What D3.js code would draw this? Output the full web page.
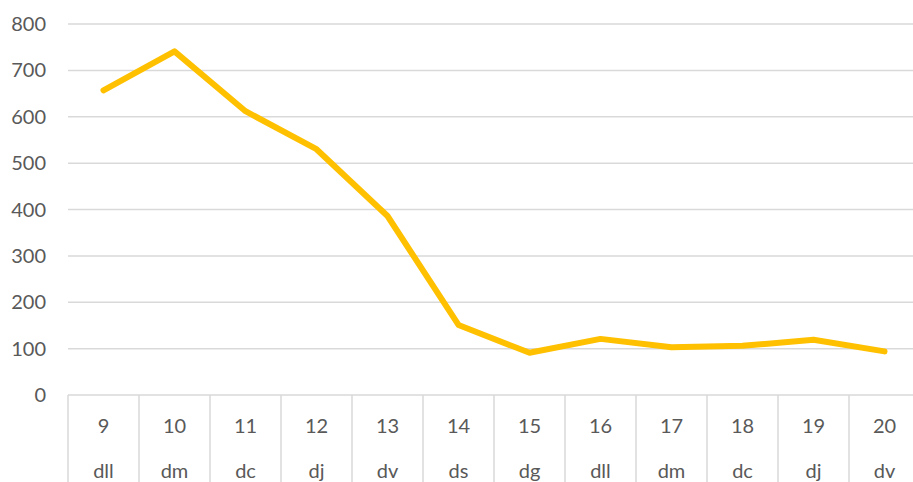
<!DOCTYPE html>
<html>
<head>
<meta charset="utf-8">
<script src="https://cdn.jsdelivr.net/npm/d3@7"></script>
<style>
  body { margin: 0; background: #fff; }
  text { font-family: Lato, "Open Sans", sans-serif; fill: #595959; }
</style>
</head>
<body>
<div id="chart"></div>
<script>
var days = ["9", "10", "11", "12", "13", "14", "15", "16", "17", "18", "19", "20"];
var weekdays = ["dll", "dm", "dc", "dj", "dv", "ds", "dg", "dll", "dm", "dc", "dj", "dv"];
var values = [657, 741, 612, 530, 386, 151, 91, 121, 103, 106, 119, 94];
var yTicks = [0, 100, 200, 300, 400, 500, 600, 700, 800];

var width = 913, height = 482;
var margin = { left: 68, top: 24, bottom: 87 };
var plotRight = 920;
var baseY = height - margin.bottom;

var svg = d3.select("#chart").append("svg")
    .attr("width", width)
    .attr("height", height);

var x = d3.scaleBand()
    .domain(d3.range(days.length))
    .range([margin.left, plotRight]);

var y = d3.scaleLinear()
    .domain([0, 800])
    .range([baseY, margin.top]);

// gridlines
svg.selectAll(".grid")
    .data(yTicks)
    .enter()
    .append("line")
    .attr("x1", margin.left)
    .attr("x2", plotRight)
    .attr("y1", function (d) { return y(d); })
    .attr("y2", function (d) { return y(d); })
    .attr("stroke", "#d9d9d9")
    .attr("stroke-width", 1.5);

// y labels
svg.selectAll(".ylab")
    .data(yTicks)
    .enter()
    .append("text")
    .attr("x", 46)
    .attr("y", function (d) { return y(d); })
    .attr("dy", "0.35em")
    .attr("text-anchor", "end")
    .style("font-size", "20px")
    .text(function (d) { return d; });

// category dividers
var edges = d3.range(days.length + 1).map(function (i) {
    return i < days.length ? x(i) : x(days.length - 1) + x.bandwidth();
});
svg.selectAll(".div")
    .data(edges)
    .enter()
    .append("line")
    .attr("x1", function (d) { return d; })
    .attr("x2", function (d) { return d; })
    .attr("y1", baseY)
    .attr("y2", height)
    .attr("stroke", "#d9d9d9")
    .attr("stroke-width", 1.5);

// category labels
svg.selectAll(".daylab")
    .data(days)
    .enter()
    .append("text")
    .attr("x", function (d, i) { return x(i) + x.bandwidth() / 2; })
    .attr("y", 426)
    .attr("dy", "0.35em")
    .attr("text-anchor", "middle")
    .style("font-size", "20px")
    .text(function (d) { return d; });

svg.selectAll(".wdlab")
    .data(weekdays)
    .enter()
    .append("text")
    .attr("x", function (d, i) { return x(i) + x.bandwidth() / 2; })
    .attr("y", 471)
    .attr("dy", "0.35em")
    .attr("text-anchor", "middle")
    .style("font-size", "20px")
    .text(function (d) { return d; });

// line
var line = d3.line()
    .x(function (d, i) { return x(i) + x.bandwidth() / 2; })
    .y(function (d) { return y(d); });

svg.append("path")
    .datum(values)
    .attr("d", line)
    .attr("fill", "none")
    .attr("stroke", "#FFC000")
    .attr("stroke-width", 6)
    .attr("stroke-linejoin", "round")
    .attr("stroke-linecap", "round");
</script>
</body>
</html>
